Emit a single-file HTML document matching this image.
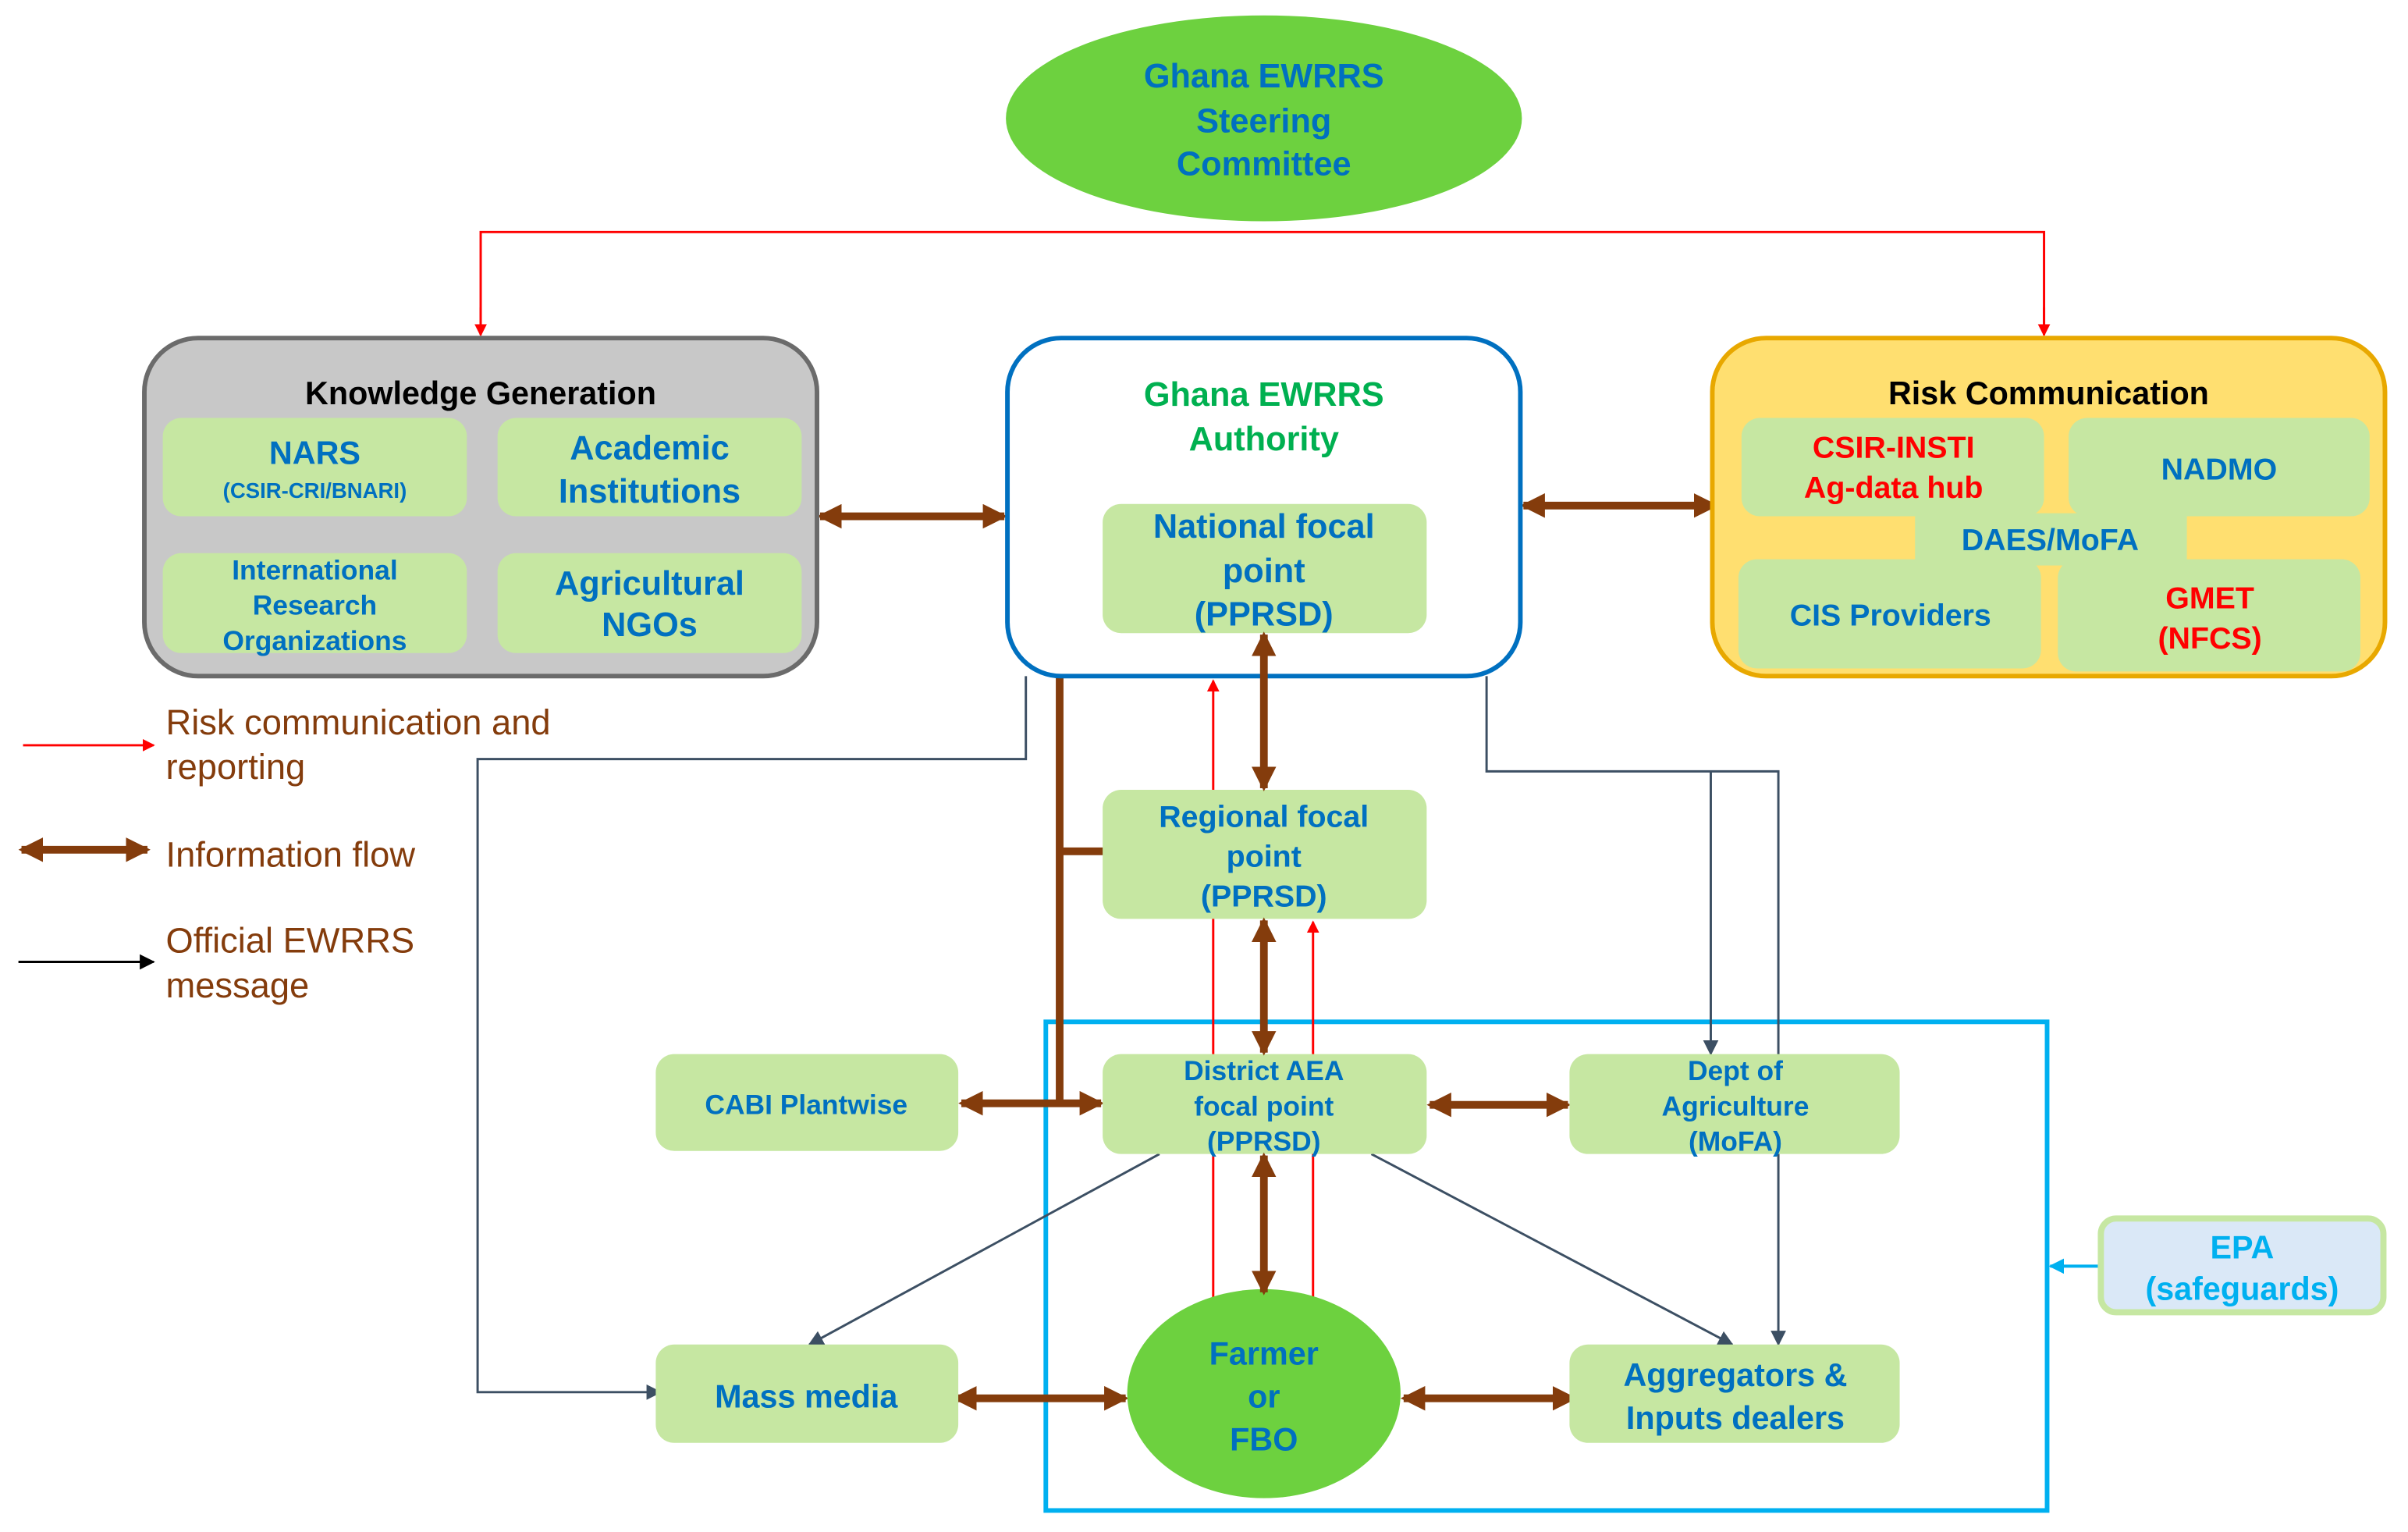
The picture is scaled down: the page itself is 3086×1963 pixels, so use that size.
<!DOCTYPE html>
<html><head><meta charset="utf-8"><style>
html,body{margin:0;padding:0;background:#fff}
svg{display:block}
text{font-family:"Liberation Sans",Arial,sans-serif;font-weight:bold}
</style></head><body>
<svg width="3086" height="1963" viewBox="0 0 1568 997" preserveAspectRatio="none" xmlns="http://www.w3.org/2000/svg">
<defs>
<marker id="ar" markerWidth="8" markerHeight="8" refX="7" refY="4" orient="auto" markerUnits="userSpaceOnUse"><path d="M0,0 L8,4 L0,8 z" fill="#ff0000"/></marker>
<marker id="ad" markerWidth="10" markerHeight="10" refX="9" refY="5" orient="auto" markerUnits="userSpaceOnUse"><path d="M0,0 L10,5 L0,10 z" fill="#3c4f63"/></marker>
<marker id="ak" markerWidth="10" markerHeight="10" refX="9" refY="5" orient="auto" markerUnits="userSpaceOnUse"><path d="M0,0 L10,5 L0,10 z" fill="#000"/></marker>
<marker id="ac" markerWidth="10" markerHeight="10" refX="9" refY="5" orient="auto" markerUnits="userSpaceOnUse"><path d="M0,0 L10,5 L0,10 z" fill="#00b0f0"/></marker>
<marker id="ab" markerWidth="16" markerHeight="16" refX="14" refY="8" orient="auto-start-reverse" markerUnits="userSpaceOnUse"><path d="M0,0 L16,8 L0,16 z" fill="#843c0c"/></marker>
</defs>

<ellipse cx="823" cy="77" rx="168" ry="67" fill="#6dd13f"/>
<g fill="#0070c0" font-size="22" text-anchor="middle">
<text x="823" y="57">Ghana EWRRS</text><text x="823" y="86">Steering</text><text x="823" y="114">Committee</text></g>

<polyline points="313,218 313,151 1331,151 1331,218" fill="none" stroke="#ff0000" stroke-width="1.5"/>
<line x1="313" y1="200" x2="313" y2="218" stroke="#ff0000" stroke-width="1.5" marker-end="url(#ar)"/>
<line x1="1331" y1="200" x2="1331" y2="218" stroke="#ff0000" stroke-width="1.5" marker-end="url(#ar)"/>

<rect x="681" y="665" width="652" height="318" fill="none" stroke="#00b0f0" stroke-width="3"/>

<g fill="none" stroke="#3c4f63" stroke-width="1.5">
<polyline points="668,440 668,494 311,494 311,906 430,906" marker-end="url(#ad)"/>
<polyline points="968,440 968,502 1158,502 1158,875" marker-end="url(#ad)"/>
<polyline points="1114,502 1114,686" marker-end="url(#ad)"/>
<line x1="755" y1="751" x2="527" y2="875" marker-end="url(#ad)"/>
<line x1="893" y1="751" x2="1128" y2="875" marker-end="url(#ad)"/>
</g>

<line x1="790" y1="845" x2="790" y2="443" stroke="#ff0000" stroke-width="1.5" marker-end="url(#ar)"/>
<line x1="855" y1="845" x2="855" y2="600" stroke="#ff0000" stroke-width="1.5" marker-end="url(#ar)"/>

<g stroke="#843c0c" stroke-width="5" fill="none">
<line x1="690" y1="440" x2="690" y2="718"/>
<line x1="690" y1="554" x2="722" y2="554"/>
<line x1="534" y1="336" x2="654" y2="336" marker-start="url(#ab)" marker-end="url(#ab)"/>
<line x1="992" y1="329" x2="1117" y2="329" marker-start="url(#ab)" marker-end="url(#ab)"/>
<line x1="626" y1="718" x2="717" y2="718" marker-start="url(#ab)" marker-end="url(#ab)"/>
<line x1="931" y1="719" x2="1021" y2="719" marker-start="url(#ab)" marker-end="url(#ab)"/>
<line x1="622" y1="910" x2="733" y2="910" marker-start="url(#ab)" marker-end="url(#ab)"/>
<line x1="914" y1="910" x2="1025" y2="910" marker-start="url(#ab)" marker-end="url(#ab)"/>
<line x1="14" y1="553" x2="96" y2="553" marker-start="url(#ab)" marker-end="url(#ab)"/>
</g>

<rect x="94" y="220" width="438" height="220" rx="35" fill="#c8c8c8" stroke="#6b6b6b" stroke-width="3"/>
<text x="313" y="263" font-size="21" text-anchor="middle" fill="#000">Knowledge Generation</text>
<g fill="#c6e7a2"><rect x="106" y="272" width="198" height="64" rx="12"/><rect x="324" y="272" width="198" height="64" rx="12"/><rect x="106" y="360" width="198" height="65" rx="12"/><rect x="324" y="360" width="198" height="65" rx="12"/></g>
<g fill="#0070c0" text-anchor="middle">
<text x="205" y="302" font-size="21">NARS</text><text x="205" y="324" font-size="14">(CSIR-CRI/BNARI)</text>
<text x="423" y="299" font-size="22">Academic</text><text x="423" y="327" font-size="22">Institutions</text>
<text x="205" y="377" font-size="18">International</text><text x="205" y="400" font-size="18">Research</text><text x="205" y="423" font-size="18">Organizations</text>
<text x="423" y="387" font-size="22">Agricultural</text><text x="423" y="414" font-size="22">NGOs</text>
</g>

<rect x="656" y="220" width="334" height="220" rx="35" fill="#fff" stroke="#0070c0" stroke-width="3"/>
<text x="823" y="264" font-size="22" text-anchor="middle" fill="#00b050">Ghana EWRRS</text>
<text x="823" y="293" font-size="22" text-anchor="middle" fill="#00b050">Authority</text>
<rect x="718" y="328" width="211" height="84" rx="12" fill="#c6e7a2"/>
<g fill="#0070c0" text-anchor="middle" font-size="22"><text x="823" y="350">National focal</text><text x="823" y="379">point</text><text x="823" y="407">(PPRSD)</text></g>

<rect x="1115" y="220" width="438" height="220" rx="35" fill="#ffdf70" stroke="#e8a800" stroke-width="3"/>
<text x="1334" y="263" font-size="21" text-anchor="middle" fill="#000">Risk Communication</text>
<g fill="#c6e7a2"><rect x="1134" y="272" width="197" height="64" rx="12"/><rect x="1347" y="272" width="196" height="64" rx="12"/><rect x="1247" y="334" width="177" height="34"/><rect x="1132" y="364" width="197" height="71" rx="12"/><rect x="1340" y="364" width="197" height="73" rx="12"/></g>
<g text-anchor="middle" font-size="20">
<text x="1233" y="298" fill="#ff0000">CSIR-INSTI</text><text x="1233" y="324" fill="#ff0000">Ag-data hub</text>
<text x="1445" y="312" fill="#0070c0">NADMO</text>
<text x="1335" y="358" fill="#0070c0">DAES/MoFA</text>
<text x="1231" y="407" fill="#0070c0">CIS Providers</text>
<text x="1439" y="396" fill="#ff0000">GMET</text><text x="1439" y="422" fill="#ff0000">(NFCS)</text>
</g>

<line x1="15" y1="485" x2="100" y2="485" stroke="#ff0000" stroke-width="1.5" marker-end="url(#ar)"/>
<line x1="12" y1="626" x2="100" y2="626" stroke="#000" stroke-width="1.5" marker-end="url(#ak)"/>
<g fill="#843c0c" font-size="23">
<text x="108" y="478" style="font-weight:normal">Risk communication and</text><text x="108" y="507" style="font-weight:normal">reporting</text>
<text x="108" y="564" style="font-weight:normal">Information flow</text>
<text x="108" y="620" style="font-weight:normal">Official EWRRS</text><text x="108" y="649" style="font-weight:normal">message</text>
</g>

<g fill="#c6e7a2">
<rect x="718" y="514" width="211" height="84" rx="12"/>
<rect x="718" y="686" width="211" height="65" rx="12"/>
<rect x="427" y="686" width="197" height="63" rx="12"/>
<rect x="1022" y="686" width="215" height="65" rx="12"/>
<rect x="427" y="875" width="197" height="64" rx="12"/>
<rect x="1022" y="875" width="215" height="64" rx="12"/>
</g>
<ellipse cx="823" cy="907" rx="89" ry="68" fill="#6dd13f"/>
<rect x="1368" y="793" width="184" height="61" rx="10" fill="#dae8f7" stroke="#c6e7a2" stroke-width="4"/>
<line x1="1366" y1="824" x2="1335" y2="824" stroke="#00b0f0" stroke-width="2" marker-end="url(#ac)"/>

<g stroke="#843c0c" stroke-width="5" fill="none">
<line x1="823" y1="413" x2="823" y2="513" marker-start="url(#ab)" marker-end="url(#ab)"/>
<line x1="823" y1="599" x2="823" y2="685" marker-start="url(#ab)" marker-end="url(#ab)"/>
<line x1="823" y1="752" x2="823" y2="841" marker-start="url(#ab)" marker-end="url(#ab)"/>
</g>

<g fill="#0070c0" text-anchor="middle">
<g font-size="20"><text x="823" y="538">Regional focal</text><text x="823" y="564">point</text><text x="823" y="590">(PPRSD)</text></g>
<g font-size="18"><text x="823" y="703">District AEA</text><text x="823" y="726">focal point</text><text x="823" y="749">(PPRSD)</text></g>
<text x="525" y="725" font-size="18">CABI Plantwise</text>
<g font-size="18"><text x="1130" y="703">Dept of</text><text x="1130" y="726">Agriculture</text><text x="1130" y="749">(MoFA)</text></g>
<text x="525" y="916" font-size="21">Mass media</text>
<g font-size="21"><text x="1130" y="902">Aggregators &amp;</text><text x="1130" y="930">Inputs dealers</text></g>
<g font-size="21"><text x="823" y="888">Farmer</text><text x="823" y="916">or</text><text x="823" y="944">FBO</text></g>
</g>
<g fill="#00b0f0" text-anchor="middle" font-size="21"><text x="1460" y="819">EPA</text><text x="1460" y="846">(safeguards)</text></g>
</svg>
</body></html>
